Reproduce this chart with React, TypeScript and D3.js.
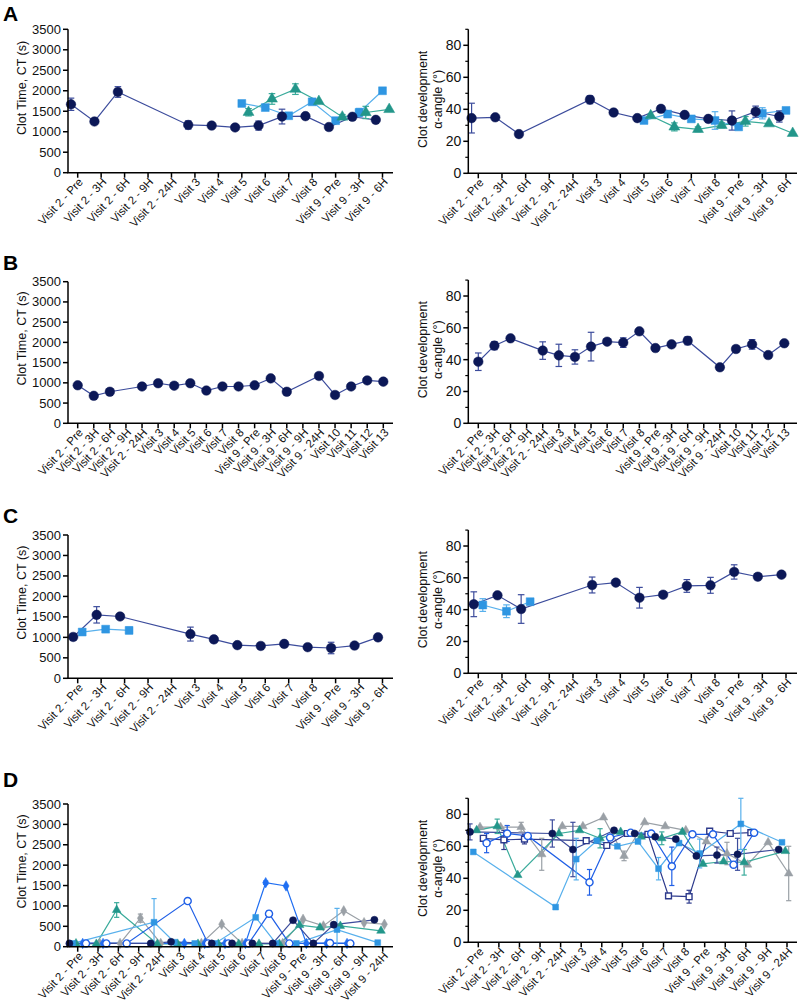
import React from "react";
import * as d3 from "d3";

const FONT = "'Liberation Sans', Arial, Helvetica, sans-serif";

// categories
const cats14 = ["Visit 2 - Pre", "Visit 2 - 3H", "Visit 2 - 6H", "Visit 2 - 9H", "Visit 2 - 24H", "Visit 3", "Visit 4", "Visit 5", "Visit 6", "Visit 7", "Visit 8", "Visit 9 - Pre", "Visit 9 - 3H", "Visit 9 - 6H"];
const cats20 = ["Visit 2 - Pre", "Visit 2 - 3H", "Visit 2 - 6H", "Visit 2 - 9H", "Visit 2 - 24H", "Visit 3", "Visit 4", "Visit 5", "Visit 6", "Visit 7", "Visit 8", "Visit 9 - Pre", "Visit 9 - 3H", "Visit 9 - 6H", "Visit 9 - 9H", "Visit 9 - 24H", "Visit 10", "Visit 11", "Visit 12", "Visit 13"];
const cats16 = ["Visit 2 - Pre", "Visit 2 - 3H", "Visit 2 - 6H", "Visit 2 - 9H", "Visit 2 - 24H", "Visit 3", "Visit 4", "Visit 5", "Visit 6", "Visit 7", "Visit 8", "Visit 9 - Pre", "Visit 9 - 3H", "Visit 9 - 6H", "Visit 9 - 9H", "Visit 9 - 24H"];

const ctTicks = [0, 500, 1000, 1500, 2000, 2500, 3000, 3500];
const angleTicks = [0, 20, 40, 60, 80];
const angleMinor = [10, 30, 50, 70, 90];

// ---- panel A ----
const aCtNavy = [1670, 1250, 1970, null, null, 1165, 1150, 1105, 1150, 1370, 1380, 1115, 1365, 1290];
const aCtNavyErr = [150, null, 130, null, null, 100, null, null, 110, 180, null, null, null, null];
const aCtSquare = [null, null, null, null, null, null, null, 1690, 1590, 1390, 1730, 1270, 1470, 2000];
const aCtSquareErr = [null, null, null, null, null, null, null, null, null, null, null, null, 100, null];
const aCtTri = [null, null, null, null, null, null, null, 1475, 1800, 2040, 1740, 1360, 1470, 1545];
const aCtTriErr = [null, null, null, null, null, null, null, 90, 130, 130, null, 60, 150, null];

const aAngNavy = [34.5, 35, 24.5, null, null, 46, 38, 34.5, 40.3, 36.5, 34, 33, 38.5, 35.5];
const aAngNavyErr = [9.3, null, null, null, null, 2.5, null, null, 2, 1.5, null, 6, 3.5, 3.5];
const aAngSquare = [null, null, null, null, null, null, null, 33, 37, 34, 33, 29, 37.5, 39.3];
const aAngSquareErr = [null, null, null, null, null, null, null, null, null, null, 5.5, null, 3.5, null];
const aAngTri = [null, null, null, null, null, null, null, 36, 29, 27.5, 30, 32.5, 31, 25];
const aAngTriErr = [null, null, null, null, null, null, null, null, 2.5, 1.5, 1.5, 3, null, null];

// ---- panel B ----
const bCt = [940, 680, 780, null, 910, 990, 930, 990, 810, 910, 910, 940, 1110, 780, null, 1170, 700, 910, 1060, 1030];
const bAng = [38.7, 48.8, 53.4, null, 45.7, 42.7, 41.7, 48.2, 51.3, 50.7, 57.8, 47.3, 49.6, 51.9, null, 35.2, 46.7, 49.6, 42.9, 50.3];
const bAngErr = [5.5, 2.5, null, null, 5.5, 7, 4.5, 9, null, 3, null, 1.5, null, 2.5, null, 1.5, null, 3, null, null];

// ---- panel C ----
const cCtNavy = [1010, 1550, 1510, null, null, 1080, 950, 810, 790, 840, 760, 740, 800, 1000];
const cCtNavyErr = [70, 200, null, null, null, 170, 80, null, null, 40, null, 140, null, 80];
const cCtSquare = [1130, 1200, 1170, null, null, null, null, null, null, null, null, null, null, null];
const cCtSquareErr = [null, null, 80, null, null, null, null, null, null, null, null, null, null, null];
const cAngNavy = [43.4, 49, 40.4, null, null, 55.5, 57, 47.5, 49.4, 54.9, 55.3, 63.7, 60.7, 62];
const cAngNavyErr = [7.8, null, 9, null, null, 5, null, 6.5, null, 4, 5, 4.5, 2, null];
const cAngSquare = [42.9, 39, 45, null, null, null, null, null, null, null, null, null, null, null];
const cAngSquareErr = [4, 4, null, null, null, null, null, null, null, null, null, null, null, null];

// ---- panel D ----
const dCtNavy = [80, null, null, null, 80, 120, null, 80, 80, 80, 80, 650, 80, 540, null, 660];
const dCtLight = [80, null, null, null, 600, 110, 80, 80, null, 720, 80, 80, null, 420, null, 100];
const dCtLightErr = [null, null, null, null, 580, null, null, null, null, null, null, null, null, 520, null, null];
const dCtTeal = [80, 70, 900, null, 70, 70, 70, 70, 70, 70, 70, 530, 470, 510, null, 390];
const dCtTealErr = [null, null, 180, null, null, null, null, null, null, null, null, null, null, null, null, null];
const dCtGray = [null, 80, 80, 700, 80, null, 80, 550, 80, null, 80, 670, 510, 880, 590, 550];
const dCtGrayErr = [null, null, null, 100, null, null, null, null, null, null, null, null, null, null, null, null];
const dCtBright = [80, 80, null, null, null, 80, 80, 80, 80, 1570, 1490, 80, 80, 80, null, null];
const dCtBrightErr = [null, null, null, null, null, null, null, null, null, 40, null, null, null, null, null, null];
const dCtOpen = [80, 80, 80, null, null, 1120, 80, 80, 80, 810, 80, null, 90, 80, null, null];
const dCtOpenErr = [null, null, null, null, null, null, null, null, null, 70, null, null, null, null, null, null];

const dAngNavy = [69, null, null, null, 68, 58, null, 70, 68, 66, 64.5, 54, 54.5, 55, null, 58];
const dAngNavyErr = [5, null, null, null, 8.5, 17, null, null, null, null, null, null, 5, 10, null, null];
const dAngLight = [56.5, null, null, null, 22, 52, 63.5, 60, 63, 46, 62, 55.5, null, 74, null, 62.5];
const dAngLightErr = [null, null, null, null, null, 13, null, null, null, 7, null, 9, null, 16, null, null];
const dAngTeal = [70, 72.5, 42, null, 68, 70, 65, 69, 66, 65, 69, 49, 50.5, 50, null, 57];
const dAngTealErr = [null, 4.5, null, null, null, null, 6, null, null, 4, null, null, null, 8, null, null];
const dAngGray = [72, 72, 72, 55, 72.5, 72.5, 78, 54, 75, 72.5, 70, 63, 55.5, 48.5, 62.5, 43];
const dAngGrayErr = [null, null, 3, 10, null, null, null, 3, null, null, null, null, 7, null, null, 17];
const dAngOpenSq = [65, 64, 64.5, null, null, 63.5, 60.5, 68, 67.5, 29, 28.5, 69.5, 68, 68.5, null, null];
const dAngOpenSqErr = [null, 6, 3, null, null, null, null, null, null, null, 4, null, null, null, null, null];
const dAngOpenCi = [62, 68, 66.5, null, null, 37.5, 65.5, 68.5, 68, 47.5, 67.5, 67.5, 48.5, 68.5, null, null];
const dAngOpenCiErr = [6, 5, null, null, null, 8, null, null, null, 12, null, null, null, null, null, null];

// colours
const NAVY = "#0c1857";
const NAVY_LINE = "#3c4c9c";
const LIGHT = "#2f96e2";
const LIGHT_LINE = "#58b0ec";
const TEAL = "#23968a";
const TEAL_LINE = "#3aab9b";
const GRAY = "#9aa0a6";
const BRIGHT = "#1f6ef2";
const OPEN_BLUE = "#1f5fe6";
const OPEN_NAVY = "#2d3a8c";

type Shape = "circle" | "square" | "triangle" | "diamond";
type Series = {
  values: (number | null)[];
  err?: (number | null)[];
  shape: Shape;
  color: string;
  line: string;
  open?: boolean;
  dx: number;
  size: number;
};

const symbolOf: Record<Shape, d3.SymbolType> = {
  circle: d3.symbolCircle,
  square: d3.symbolSquare,
  triangle: d3.symbolTriangle,
  diamond: d3.symbolDiamond,
};

type PanelProps = {
  cats: string[];
  yMax: number;
  ticks: number[];
  minor?: number[];
  x0: number;
  xFirst: number;
  xLast: number;
  xEnd: number;
  yTop: number;
  yBottom: number;
  title: string[];
  titleShift: number;
  tickFont: number;
  series: Series[];
  cap: number;
};

const Panel = (p: PanelProps) => {
  const x = d3.scalePoint<string>().domain(p.cats).range([p.xFirst, p.xLast]);
  const y = d3.scaleLinear().domain([0, p.yMax]).range([p.yBottom, p.yTop]);
  const line = d3.line<[number, number]>();
  const midY = (p.yTop + p.yBottom) / 2 + p.titleShift;

  return (
    <g>
      {/* lines */}
      {p.series.map((s, si) => {
        const pts = s.values
          .map((v, i) => (v == null ? null : ([x(p.cats[i])! + s.dx, y(v)] as [number, number])))
          .filter((d): d is [number, number] => d != null);
        return <path key={"l" + si} d={line(pts) || ""} fill="none" stroke={s.line} strokeWidth={1.2} />;
      })}
      {/* error bars */}
      {p.series.map((s, si) =>
        s.values.map((v, i) => {
          const e = s.err ? s.err[i] : null;
          if (v == null || e == null) return null;
          const cx = x(p.cats[i])! + s.dx;
          const y1 = y(Math.max(0, v - e));
          const y2 = y(v + e);
          return (
            <g key={"e" + si + "-" + i} stroke={s.line} strokeWidth={1.2}>
              <line x1={cx} x2={cx} y1={y1} y2={y2} />
              <line x1={cx - p.cap} x2={cx + p.cap} y1={y1} y2={y1} />
              <line x1={cx - p.cap} x2={cx + p.cap} y1={y2} y2={y2} />
            </g>
          );
        })
      )}
      {/* markers */}
      {p.series.map((s, si) =>
        s.values.map((v, i) => {
          if (v == null) return null;
          const cx = x(p.cats[i])! + s.dx;
          const path = d3.symbol().type(symbolOf[s.shape]).size(s.size)() || "";
          return (
            <path
              key={"m" + si + "-" + i}
              d={path}
              transform={`translate(${cx},${y(v)})`}
              fill={s.open ? "#ffffff" : s.color}
              stroke={s.color}
              strokeWidth={s.open ? 1.4 : 0.5}
            />
          );
        })
      )}
      {/* axes */}
      <line x1={p.x0} x2={p.x0} y1={p.yTop} y2={p.yBottom} stroke="#000" strokeWidth={1.5} />
      <line x1={p.x0 - 0.75} x2={p.xEnd} y1={p.yBottom} y2={p.yBottom} stroke="#000" strokeWidth={1.5} />
      {p.ticks.map((t) => (
        <g key={"yt" + t}>
          <line x1={p.x0 - 5} x2={p.x0} y1={y(t)} y2={y(t)} stroke="#000" strokeWidth={1.5} />
          <text x={p.x0 - 7} y={y(t)} dy="0.35em" textAnchor="end" fontSize={p.tickFont} fontFamily={FONT} fill="#111">
            {t}
          </text>
        </g>
      ))}
      {(p.minor || []).map((t) => (
        <line key={"ym" + t} x1={p.x0 - 3} x2={p.x0} y1={y(t)} y2={y(t)} stroke="#000" strokeWidth={1.2} />
      ))}
      {p.cats.map((c) => {
        const cx = x(c)!;
        return (
          <g key={"xt" + c}>
            <line x1={cx} x2={cx} y1={p.yBottom} y2={p.yBottom + 5} stroke="#000" strokeWidth={1.5} />
            <text
              transform={`translate(${cx + 3},${p.yBottom + 7}) rotate(-47)`}
              textAnchor="end"
              dy="0.35em"
              fontSize={11.5}
              fontFamily={FONT}
              fill="#111"
            >
              {c}
            </text>
          </g>
        );
      })}
      {p.title.map((t, i) => (
        <text
          key={"ti" + i}
          transform={`translate(${p.x0 - 46 + i * 15},${midY}) rotate(-90)`}
          textAnchor="middle"
          dy="0.35em"
          fontSize={12.5}
          fontFamily={FONT}
          fill="#111"
        >
          {t}
        </text>
      ))}
    </g>
  );
};

const ctTitle = ["Clot Time, CT (s)"];
const angTitle = ["Clot development", "α-angle (°)"];

const big = { circle: 72, square: 62, triangle: 52, diamond: 52 };
const small = { circle: 40, square: 34, triangle: 32, diamond: 32 };

const left = { x0: 68, xFirst: 77.7, xLast: 382.5, xEnd: 393 };
const right = { x0: 468.3, xFirst: 478.3, xLast: 786, xEnd: 797 };

export default function App() {
  const seriesA3 = (n: any, ne: any, s: any, se: any, t: any, te: any): Series[] => [
    { values: s, err: se, shape: "square", color: LIGHT, line: LIGHT_LINE, dx: 0, size: big.square },
    { values: t, err: te, shape: "triangle", color: TEAL, line: TEAL_LINE, dx: 6.7, size: big.triangle },
    { values: n, err: ne, shape: "circle", color: NAVY, line: NAVY_LINE, dx: -6.7, size: big.circle },
  ];
  const seriesC = (n: any, ne: any, s: any, se: any): Series[] => [
    { values: s, err: se, shape: "square", color: LIGHT, line: LIGHT_LINE, dx: 4.5, size: big.square },
    { values: n, err: ne, shape: "circle", color: NAVY, line: NAVY_LINE, dx: -4.5, size: big.circle },
  ];
  const dOff = [-8.3, -5, -1.7, 1.7, 5, 8.3];

  const dCtSeries: Series[] = [
    { values: dCtGray, err: dCtGrayErr, shape: "diamond", color: GRAY, line: GRAY, dx: dOff[3], size: small.diamond },
    { values: dCtTeal, err: dCtTealErr, shape: "triangle", color: TEAL, line: TEAL_LINE, dx: dOff[2], size: small.triangle },
    { values: dCtLight, err: dCtLightErr, shape: "square", color: LIGHT, line: LIGHT_LINE, dx: dOff[1], size: small.square },
    { values: dCtBright, err: dCtBrightErr, shape: "diamond", color: BRIGHT, line: BRIGHT, dx: dOff[4], size: small.diamond },
    { values: dCtOpen, err: dCtOpenErr, shape: "circle", color: OPEN_BLUE, line: OPEN_BLUE, open: true, dx: dOff[5], size: small.circle },
    { values: dCtNavy, shape: "circle", color: NAVY, line: NAVY_LINE, dx: dOff[0], size: small.circle },
  ];
  const dAngSeries: Series[] = [
    { values: dAngGray, err: dAngGrayErr, shape: "triangle", color: GRAY, line: GRAY, dx: dOff[3], size: small.triangle },
    { values: dAngTeal, err: dAngTealErr, shape: "triangle", color: TEAL, line: TEAL_LINE, dx: dOff[2], size: small.triangle },
    { values: dAngLight, err: dAngLightErr, shape: "square", color: LIGHT, line: LIGHT_LINE, dx: dOff[1], size: small.square },
    { values: dAngOpenSq, err: dAngOpenSqErr, shape: "square", color: OPEN_NAVY, line: OPEN_NAVY, open: true, dx: dOff[4], size: small.square },
    { values: dAngOpenCi, err: dAngOpenCiErr, shape: "circle", color: OPEN_BLUE, line: OPEN_BLUE, open: true, dx: dOff[5], size: small.circle },
    { values: dAngNavy, err: dAngNavyErr, shape: "circle", color: NAVY, line: NAVY_LINE, dx: dOff[0], size: small.circle },
  ];

  const letter = (t: string, yb: number) => (
    <text x={3} y={yb} fontSize={21} fontWeight="bold" fontFamily={FONT} fill="#000">
      {t}
    </text>
  );

  return (
    <svg width={800} height={1004} style={{ position: "absolute", left: 0, top: 0, background: "#fff" }}>
      <rect width={800} height={1004} fill="#fff" />
      {letter("A", 21)}
      {letter("B", 270)}
      {letter("C", 523)}
      {letter("D", 787)}

      {/* A */}
      <Panel {...left} cats={cats14} yMax={3500} ticks={ctTicks} yTop={29.3} yBottom={172.7} title={ctTitle} titleShift={-13} tickFont={13} cap={3.3}
        series={seriesA3(aCtNavy, aCtNavyErr, aCtSquare, aCtSquareErr, aCtTri, aCtTriErr)} />
      <Panel {...right} cats={cats14} yMax={90} ticks={angleTicks} minor={angleMinor} yTop={29.3} yBottom={173.3} title={angTitle} titleShift={-2} tickFont={14} cap={3.3}
        series={seriesA3(aAngNavy, aAngNavyErr, aAngSquare, aAngSquareErr, aAngTri, aAngTriErr)} />

      {/* B */}
      <Panel {...left} xLast={383.3} cats={cats20} yMax={3500} ticks={ctTicks} yTop={281.7} yBottom={423.3} title={ctTitle} titleShift={-14} tickFont={13} cap={3.3}
        series={[{ values: bCt, shape: "circle", color: NAVY, line: NAVY_LINE, dx: 0, size: big.circle }]} />
      <Panel {...right} xLast={784.3} cats={cats20} yMax={90} ticks={angleTicks} minor={angleMinor} yTop={280.1} yBottom={423.3} title={angTitle} titleShift={-2} tickFont={14} cap={3.3}
        series={[{ values: bAng, err: bAngErr, shape: "circle", color: NAVY, line: NAVY_LINE, dx: 0, size: big.circle }]} />

      {/* C */}
      <Panel {...left} cats={cats14} yMax={3500} ticks={ctTicks} yTop={535} yBottom={678.3} title={ctTitle} titleShift={-14} tickFont={13} cap={3.3}
        series={seriesC(cCtNavy, cCtNavyErr, cCtSquare, cCtSquareErr)} />
      <Panel {...right} cats={cats14} yMax={90} ticks={angleTicks} minor={angleMinor} yTop={530.1} yBottom={673.3} title={angTitle} titleShift={-2} tickFont={14} cap={3.3}
        series={seriesC(cAngNavy, cAngNavyErr, cAngSquare, cAngSquareErr)} />

      {/* D */}
      <Panel {...left} xLast={382.7} cats={cats16} yMax={3500} ticks={ctTicks} yTop={804} yBottom={946.7} title={ctTitle} titleShift={-14} tickFont={13} cap={2.6}
        series={dCtSeries} />
      <Panel {...right} xLast={787} cats={cats16} yMax={90} ticks={angleTicks} minor={angleMinor} yTop={798.3} yBottom={942.3} title={angTitle} titleShift={-2} tickFont={14} cap={2.6}
        series={dAngSeries} />
    </svg>
  );
}
